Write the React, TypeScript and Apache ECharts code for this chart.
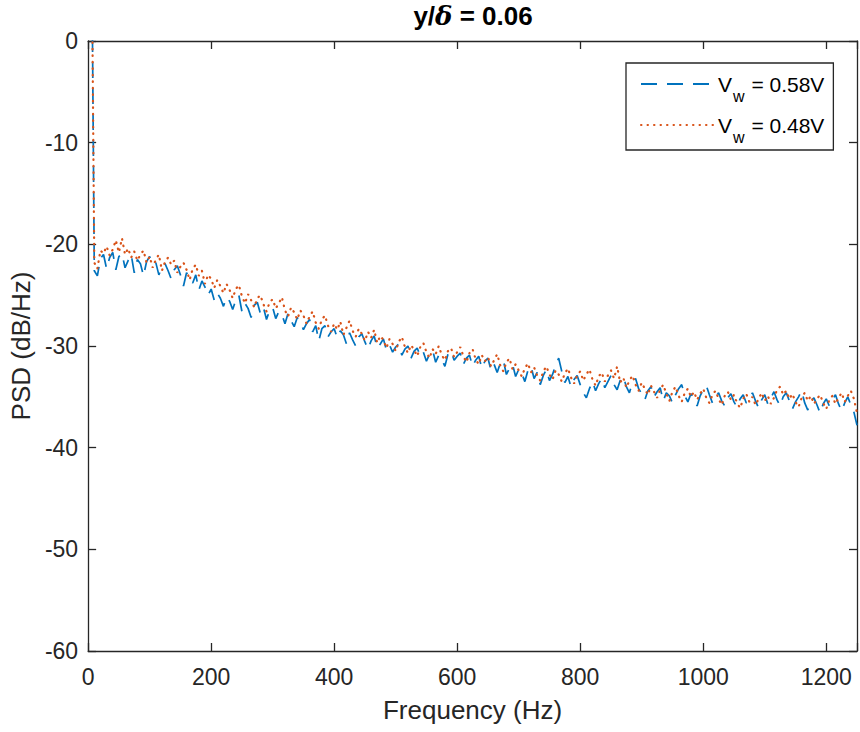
import React, { useEffect, useRef } from 'react';
import * as echarts from 'echarts';

const FONT = '"Liberation Sans", Arial, Helvetica, sans-serif';
const AXIS_COLOR = '#262626';

// Frequency grid (Hz): uniform PSD bins
const freqStart = 10;
const freqStep = 5;
// Low-frequency spike (DC leakage) shared by both curves
const spikeFreq = 7;
const spikeValue = 0.5;

const seriesNames = ['Vw = 0.58V', 'Vw = 0.48V'];
const legendLabels = ['0.58V', '0.48V'];

// PSD (dB/Hz), Vw = 0.58V
const psd058 = [
  -22.6, -23.1, -21.4, -21.0, -22.4, -21.3, -20.8, -22.5, -21.2, -20.9,
  -22.3, -21.6, -21.0, -22.8, -21.5, -21.9, -23.1, -21.7, -21.2, -22.0,
  -21.8, -23.0, -22.2, -21.9, -22.6, -23.4, -22.5, -22.1, -23.0, -24.1,
  -22.8, -23.3, -23.8, -23.0, -24.5, -23.6, -24.2, -25.0, -24.4, -25.5,
  -24.8, -25.3, -26.1, -25.2, -25.6, -26.4, -25.5, -25.0, -26.6, -25.8,
  -26.3, -27.2, -26.0, -25.7, -26.8, -26.2, -27.4, -26.5, -26.2, -27.3,
  -26.6, -26.9, -27.8, -26.8, -27.5, -28.1, -27.2, -27.6, -28.4, -27.8,
  -27.4, -28.6, -28.0, -29.5, -28.3, -28.0, -29.1, -28.6, -28.3, -29.2,
  -28.5, -28.9, -29.8, -28.7, -29.4, -30.0, -29.1, -28.8, -29.6, -30.3,
  -29.5, -29.0, -30.2, -29.8, -29.3, -30.4, -29.9, -30.6, -30.1, -29.8,
  -30.9, -30.3, -30.0, -31.2, -30.5, -30.2, -31.0, -30.6, -31.5, -30.8,
  -30.4, -31.6, -30.9, -31.3, -32.0, -30.8, -30.5, -31.4, -31.0, -30.7,
  -31.8, -31.2, -30.9, -32.0, -31.4, -31.0, -32.2, -31.5, -31.2, -32.4,
  -31.8, -32.6, -31.7, -31.4, -32.8, -32.2, -31.8, -33.0, -32.3, -32.7,
  -33.5, -32.4, -32.0, -33.2, -32.6, -33.8, -32.9, -32.3, -33.4, -32.8,
  -31.9, -31.2, -32.5, -33.6, -33.0, -34.0, -33.3, -32.9, -33.8, -34.6,
  -35.1, -34.2, -33.5, -34.4, -33.7, -33.2, -34.1, -33.5, -32.9, -33.8,
  -34.3, -33.4, -33.0, -34.0, -34.6, -33.6, -33.2, -34.2, -34.7, -35.3,
  -34.4, -34.0, -35.0, -34.5, -34.1, -35.4, -34.6, -34.9, -35.6, -34.8,
  -34.2, -33.8, -34.9, -35.5, -34.7, -35.2, -35.9, -34.9, -34.3, -33.9,
  -34.8, -35.6, -35.0, -34.6, -35.4, -35.9, -35.1, -34.7, -35.5, -36.0,
  -35.2, -34.8, -35.6, -35.2, -34.6, -35.4, -36.1, -35.3, -34.8, -35.7,
  -35.1, -34.5, -35.3, -35.9, -35.0, -34.6, -35.4, -36.2, -35.5, -35.0,
  -34.4, -35.6, -36.3, -35.4, -35.1, -35.8, -36.6, -35.7, -35.2, -35.9,
  -35.3, -34.8, -35.7, -36.4, -35.6, -35.0, -35.8, -36.5, -37.8,
];

// PSD (dB/Hz), Vw = 0.48V
const psd048 = [
  -21.8, -22.4, -20.6, -20.9, -20.2, -21.1, -20.5, -19.6, -20.8, -19.4,
  -21.0, -20.4, -21.3, -20.7, -21.6, -21.0, -20.6, -21.8, -21.2, -22.3,
  -21.5, -21.0, -22.6, -21.7, -21.3, -22.0, -21.6, -22.8, -22.2, -21.8,
  -22.5, -23.5, -22.4, -22.0, -23.1, -22.6, -23.9, -23.0, -23.4, -24.3,
  -23.5, -24.1, -24.8, -23.9, -24.5, -25.3, -24.4, -24.0, -25.1, -25.8,
  -24.9, -25.5, -26.2, -25.3, -25.0, -25.9, -26.6, -25.7, -25.4, -26.3,
  -25.8, -25.2, -26.5, -27.1, -26.2, -26.7, -27.4, -26.5, -27.0, -27.8,
  -27.1, -26.6, -27.7, -28.3, -27.4, -27.0, -28.0, -28.6, -27.8, -28.4,
  -27.6, -28.9, -28.2, -27.5, -28.5, -29.1, -28.3, -28.8, -29.5, -28.6,
  -29.2, -28.4, -29.7, -29.0, -29.4, -30.2, -29.3, -29.8, -30.5, -29.6,
  -29.1, -30.1, -30.7, -29.9, -30.4, -31.0, -30.1, -29.7, -30.6, -31.2,
  -30.3, -30.8, -30.0, -30.9, -31.4, -30.5, -30.2, -31.1, -30.6, -30.1,
  -31.0, -31.6, -30.7, -30.3, -31.3, -31.8, -30.9, -31.5, -31.1, -32.0,
  -31.4, -30.8, -31.9, -32.5, -31.6, -31.2, -32.3, -31.8, -32.4, -33.0,
  -32.2, -31.7, -32.6, -32.1, -32.9, -33.4, -32.5, -32.0, -32.8, -33.3,
  -32.4, -32.8, -33.5, -32.7, -32.2, -33.1, -33.7, -32.9, -32.5, -33.4,
  -32.8, -32.3, -33.3, -33.9, -33.0, -32.6, -33.5, -32.9, -32.4, -33.2,
  -32.0, -33.6, -33.1, -34.1, -33.4, -32.9, -33.8, -34.4, -33.6, -34.2,
  -34.8, -33.9, -34.5, -35.1, -34.3, -33.8, -34.7, -35.4, -34.5, -34.0,
  -34.9, -35.5, -34.6, -34.2, -35.0, -34.5, -35.3, -34.7, -34.2, -35.1,
  -35.6, -34.8, -34.4, -35.2, -35.8, -34.9, -34.5, -35.3, -34.8, -35.6,
  -36.1, -35.2, -34.7, -35.5, -35.0, -35.8, -35.2, -34.6, -35.4, -34.9,
  -35.7, -35.1, -34.3, -34.0, -34.8, -34.4, -35.2, -34.7, -35.5, -36.0,
  -35.1, -34.6, -35.4, -34.9, -35.7, -35.2, -34.8, -35.6, -36.2, -35.3,
  -34.9, -35.7, -35.1, -34.6, -35.5, -34.9, -34.4, -35.2, -36.6,
];

const xMin = 0;
const xMax = 1250;
const xInterval = 200;
const yMin = -60;
const yMax = 0;
const yInterval = 10;

function toPairs(values: number[]): [number, number][] {
  const pts: [number, number][] = [[spikeFreq, spikeValue]];
  values.forEach((v, i) => pts.push([freqStart + i * freqStep, v]));
  return pts;
}

const axisLineStyle = { color: AXIS_COLOR, width: 1.3 };

function frameAxis(position: string, min: number, max: number, interval: number) {
  return {
    type: 'value',
    position,
    min,
    max,
    interval,
    axisLine: { show: true, onZero: false, lineStyle: axisLineStyle },
    axisTick: { show: true, inside: true, length: 8, lineStyle: axisLineStyle },
    axisLabel: { show: false },
    splitLine: { show: false },
  };
}

export default function App() {
  const ref = useRef<HTMLDivElement>(null);
  useEffect(() => {
    document.body.style.margin = '0';
    const chart = echarts.init(ref.current!, null, { renderer: 'svg' });
    const option: any = {
      animation: false,
      backgroundColor: '#ffffff',
      textStyle: { fontFamily: FONT },
      grid: { left: 88, right: 3, top: 41, bottom: 81 },
      graphic: [
        {
          type: 'text',
          x: 473,
          y: 3,
          style: {
            text: '{a|y/}{d|δ}{a| = 0.06}',
            textAlign: 'center',
            fill: '#000',
            rich: {
              a: { fontSize: 26, fontWeight: 'bold', fontFamily: FONT, fill: '#000' },
              d: { fontSize: 26, fontWeight: 'bold', fontStyle: 'italic', fontFamily: 'DejaVu Serif, serif', fill: '#000' },
            },
          },
        },
      ],
      legend: {
        orient: 'vertical',
        left: 626,
        top: 63,
        padding: [9, 9, 5, 14],
        itemGap: 9,
        itemWidth: 72,
        itemHeight: 24,
        borderColor: AXIS_COLOR,
        borderWidth: 1.3,
        backgroundColor: '#ffffff',
        itemStyle: { opacity: 0 },
        data: seriesNames,
        formatter: (name: string) => {
          const idx = seriesNames.indexOf(name);
          return '{v|V}{s|w}{v| = ' + legendLabels[idx] + '}';
        },
        textStyle: {
          rich: {
            v: { fontSize: 21, fontFamily: FONT, color: '#000', lineHeight: 24 },
            s: { fontSize: 16, fontFamily: FONT, color: '#000', height: 0, padding: [24, 1, 0, 1], lineHeight: 24 },
          },
        },
      },
      xAxis: [
        {
          ...frameAxis('bottom', xMin, xMax, xInterval),
          name: 'Frequency (Hz)',
          nameLocation: 'middle',
          nameGap: 46,
          nameTextStyle: { fontSize: 26, color: AXIS_COLOR, fontFamily: FONT },
          axisLabel: {
            show: true,
            fontSize: 23,
            color: AXIS_COLOR,
            margin: 14,
            fontFamily: FONT,
            formatter: (v: number) => (v % xInterval === 0 ? String(v) : ''),
          },
        },
        frameAxis('top', xMin, xMax, xInterval),
      ],
      yAxis: [
        {
          ...frameAxis('left', yMin, yMax, yInterval),
          name: 'PSD (dB/Hz)',
          nameLocation: 'middle',
          nameGap: 53,
          nameTextStyle: { fontSize: 26, color: AXIS_COLOR, fontFamily: FONT },
          axisLabel: { show: true, fontSize: 23, color: AXIS_COLOR, margin: 10, fontFamily: FONT },
        },
        frameAxis('right', yMin, yMax, yInterval),
      ],
      series: [
        {
          name: seriesNames[0],
          type: 'line',
          xAxisIndex: 0,
          yAxisIndex: 0,
          data: toPairs(psd058),
          symbol: 'none',
          clip: true,
          color: '#0072BD',
          lineStyle: { color: '#0072BD', width: 1.7, type: [16, 10] },
        },
        {
          name: seriesNames[1],
          type: 'line',
          xAxisIndex: 0,
          yAxisIndex: 0,
          data: toPairs(psd048),
          symbol: 'none',
          clip: true,
          color: '#D95319',
          lineStyle: { color: '#D95319', width: 2.2, type: [0.5, 6], cap: 'round' },
        },
      ],
    };
    chart.setOption(option);
    return () => chart.dispose();
  }, []);
  return <div ref={ref} style={{ width: 860, height: 732 }} />;
}
